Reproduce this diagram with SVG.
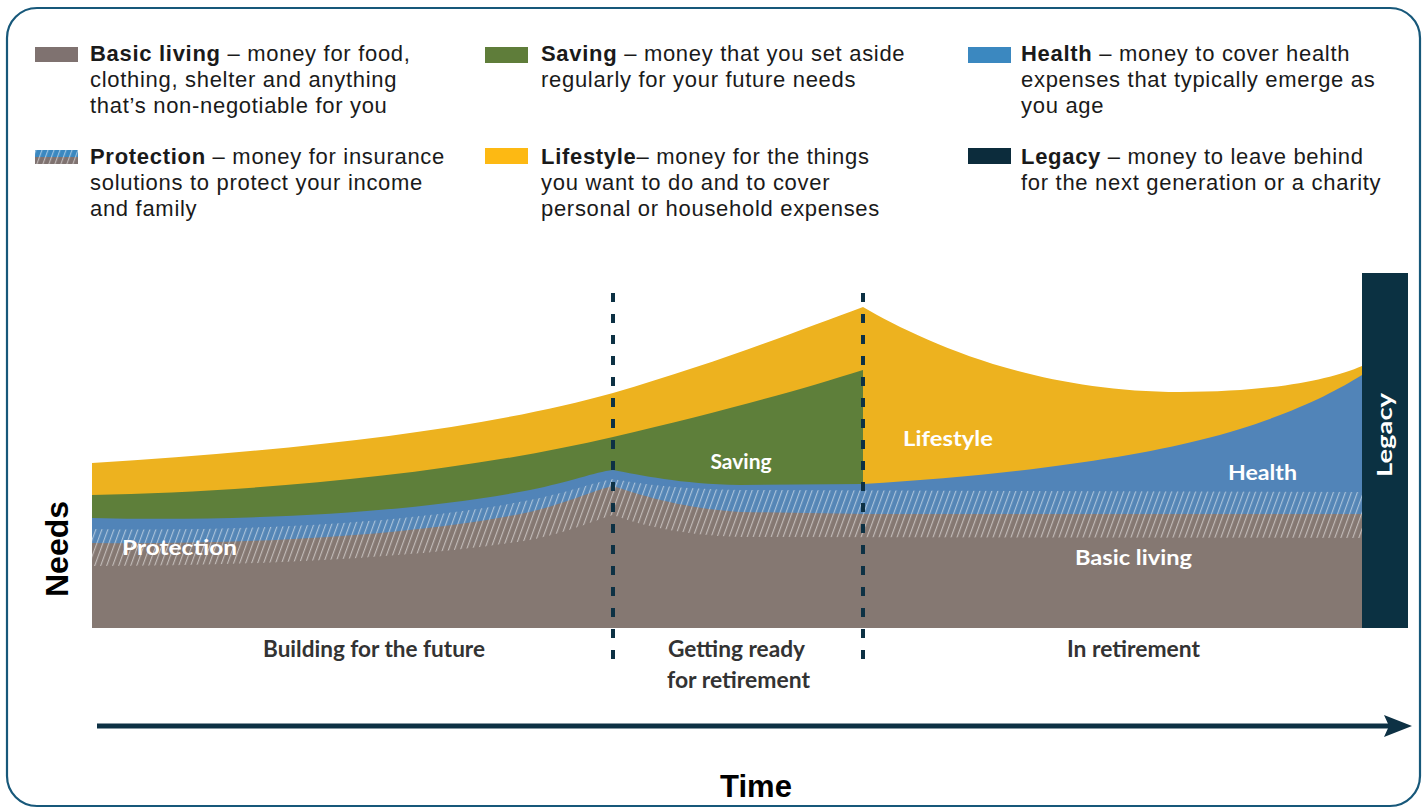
<svg xmlns="http://www.w3.org/2000/svg" width="1423" height="809" viewBox="0 0 1423 809">
<style>
.leg{font-family:"Liberation Sans",Arial,sans-serif;font-size:22px;letter-spacing:0.7px;fill:#1a1a1a}
.b{font-weight:bold}
.lbl{font-family:Lato,"Open Sans",sans-serif;font-size:21px;font-weight:bold;fill:#ffffff}
.stage{font-family:Lato,"Open Sans",sans-serif;font-size:22px;font-weight:bold;fill:#333333}
.axis{font-family:"Liberation Sans",Arial,sans-serif;font-weight:bold;fill:#000000}
.dash{stroke:#0d3144;stroke-width:4;stroke-dasharray:9 12;fill:none}
</style>
<defs>
<pattern id="hatch" patternUnits="userSpaceOnUse" width="6" height="10" patternTransform="skewX(-20)">
<rect x="0" y="0" width="1.2" height="10" fill="#ffffff" fill-opacity="0.5"/>
</pattern>
<marker id="arrow" markerWidth="28" markerHeight="22" refX="5" refY="11" orient="auto" markerUnits="userSpaceOnUse" viewBox="0 0 28 22">
<path d="M0,0 L28,11 L0,22 L5,11 Z" fill="#0d3144"/>
</marker>
</defs>

<rect x="7" y="8" width="1413" height="798" rx="30" ry="30" fill="#ffffff" stroke="#17587a" stroke-width="2.2"/>

<g id="legend">
<g id="legend-basic">
<rect x="35" y="47" width="43" height="15" fill="#7f7270"/>
<text class="leg" x="90" y="61"><tspan class="b">Basic living</tspan> – money for food,</text>
<text class="leg" x="90" y="87">clothing, shelter and anything</text>
<text class="leg" x="90" y="113">that’s non-negotiable for you</text>
</g>
<g id="legend-protection">
<rect x="35" y="150" width="43" height="7" fill="#3b88c0"/>
<rect x="35" y="157" width="43" height="7" fill="#7f7270"/>
<rect x="35" y="150" width="43" height="14" fill="url(#hatch)"/>
<text class="leg" x="90" y="164"><tspan class="b">Protection</tspan> – money for insurance</text>
<text class="leg" x="90" y="190">solutions to protect your income</text>
<text class="leg" x="90" y="216">and family</text>
</g>
<g id="legend-saving">
<rect x="485" y="47" width="43" height="16" fill="#5f7d3a"/>
<text class="leg" x="541" y="61"><tspan class="b">Saving</tspan> – money that you set aside</text>
<text class="leg" x="541" y="87">regularly for your future needs</text>
</g>
<g id="legend-lifestyle">
<rect x="485" y="148" width="43" height="16" fill="#fdb913"/>
<text class="leg" x="541" y="164"><tspan class="b">Lifestyle</tspan>– money for the things</text>
<text class="leg" x="541" y="190">you want to do and to cover</text>
<text class="leg" x="541" y="216">personal or household expenses</text>
</g>
<g id="legend-health">
<rect x="968" y="47" width="43" height="16" fill="#3b88c0"/>
<text class="leg" x="1021" y="61"><tspan class="b">Health</tspan> – money to cover health</text>
<text class="leg" x="1021" y="87">expenses that typically emerge as</text>
<text class="leg" x="1021" y="113">you age</text>
</g>
<g id="legend-legacy">
<rect x="968" y="148" width="43" height="16" fill="#0c2c3c"/>
<text class="leg" x="1021" y="164"><tspan class="b">Legacy</tspan> – money to leave behind</text>
<text class="leg" x="1021" y="190">for the next generation or a charity</text>
</g>
</g>

<g id="chart">
<g id="lifestyle">
<path d="M92,463 C300,450 480,430 613,393 C720,362 800,330 863,307 C920,340 1030,392 1180,392 C1270,392 1330,380 1362,366 L1362,628 L92,628 Z" fill="#edb21f"/>
</g>
<g id="saving">
<path d="M92,495 C250,492 450,475 613,437 C720,412 800,390 863,370 L863,628 L92,628 Z" fill="#5e7f3a"/>
</g>
<g id="health">
<path d="M92,518 C250,522 420,512 530,490 C570,482 595,472 613,470 C640,475 680,484 740,485 L863,484 C1000,476 1120,460 1200,440 C1280,420 1330,395 1362,375 L1362,628 L92,628 Z" fill="#5184b8"/>
</g>
<g id="protection">
<path d="M92,529 C250,532 420,522 530,500 C570,492 595,482 613,479 C640,484 680,489 740,490 L1362,492 L1362,628 L92,628 Z" fill="#5586b6"/>
<path d="M92,529 C250,532 420,522 530,500 C570,492 595,482 613,479 C640,484 680,489 740,490 L1362,492 L1362,628 L92,628 Z" fill="url(#hatch)"/>
<path d="M92,543 C250,545 420,535 530,512 C570,502 595,490 613,486 C640,495 680,508 740,512 L863,514 L1362,514 L1362,628 L92,628 Z" fill="#857872"/>
<path d="M92,543 C250,545 420,535 530,512 C570,502 595,490 613,486 C640,495 680,508 740,512 L863,514 L1362,514 L1362,628 L92,628 Z" fill="url(#hatch)"/>
</g>
<g id="basic-living">
<path d="M92,566 C250,566 420,558 530,540 C570,532 595,520 613,515 C640,525 680,535 740,537 L1362,538 L1362,628 L92,628 Z" fill="#857872"/>
</g>
<g id="legacy">
<rect x="1362" y="273" width="46" height="355" fill="#0b3142"/>
<text class="lbl" transform="translate(1392,435) rotate(-90)" text-anchor="middle" font-size="22" textLength="84" lengthAdjust="spacingAndGlyphs">Legacy</text>
</g>
<text class="lbl" x="122" y="555" textLength="115" lengthAdjust="spacingAndGlyphs">Protection</text>
<text class="lbl" x="741" y="469" text-anchor="middle">Saving</text>
<text class="lbl" x="903" y="446" textLength="90" lengthAdjust="spacingAndGlyphs">Lifestyle</text>
<text class="lbl" x="1228" y="480" textLength="69" lengthAdjust="spacingAndGlyphs">Health</text>
<text class="lbl" x="1075" y="565" textLength="117" lengthAdjust="spacingAndGlyphs">Basic living</text>
</g>

<g id="stages">
<text class="stage" x="263" y="657" textLength="222" lengthAdjust="spacingAndGlyphs">Building for the future</text>
<text class="stage" x="668" y="657" textLength="137" lengthAdjust="spacingAndGlyphs">Getting ready</text>
<text class="stage" x="667" y="688" textLength="143" lengthAdjust="spacingAndGlyphs">for retirement</text>
<text class="stage" x="1067" y="657" textLength="133" lengthAdjust="spacingAndGlyphs">In retirement</text>
</g>

<g id="connectors">
<line class="dash" x1="613" y1="293" x2="613" y2="662"/>
<line class="dash" x1="863" y1="293" x2="863" y2="662"/>
<line x1="97" y1="726" x2="1389" y2="726" stroke="#0d3144" stroke-width="5" marker-end="url(#arrow)"/>
</g>

<g id="axes">
<text class="axis" font-size="32" transform="translate(68,549) rotate(-90)" text-anchor="middle">Needs</text>
<text class="axis" font-size="31" x="756" y="797" text-anchor="middle">Time</text>
</g>
</svg>
